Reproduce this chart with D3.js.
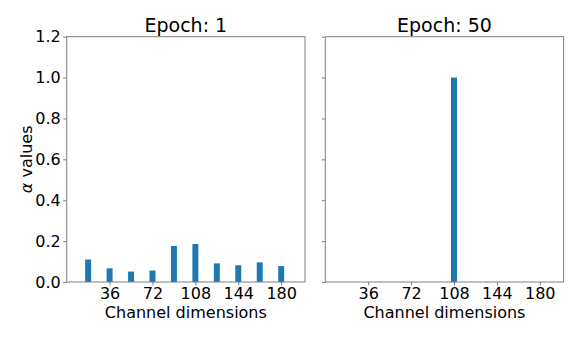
<!DOCTYPE html>
<html>
<head>
<meta charset="utf-8">
<script src="https://cdn.jsdelivr.net/npm/d3@7"></script>
<style>
  body { margin: 0; background: #fff; }
  text { font-family: "DejaVu Sans", sans-serif; fill: #000; }
</style>
</head>
<body>
<svg id="chart" width="581" height="339"></svg>
<script>
// channel positions and alpha values
const channels = [18, 36, 54, 72, 90, 108, 126, 144, 162, 180];
const alphaEpoch1 = [0.110, 0.067, 0.051, 0.056, 0.176, 0.186, 0.091, 0.082, 0.096, 0.078];
const alphaEpoch50 = [0, 0, 0, 0, 0, 1.0, 0, 0, 0, 0];
const panelTitles = ["Epoch: 1", "Epoch: 50"];
const xTicks = [36, 72, 108, 144, 180];
const yTicks = [0.0, 0.2, 0.4, 0.6, 0.8, 1.0, 1.2];

const svg = d3.select("#chart");
const barColor = "#1f77b4";
const spineColor = "#7f7f7f";

const plotTop = 36.7, plotBottom = 282;
const panelLefts = [66.7, 325.3];
const panelWidth = 238.3;
const barWidth = 5;

const y = d3.scaleLinear().domain([0, 1.2]).range([plotBottom, plotTop]);

function drawPanel(idx, values) {
    const left = panelLefts[idx];
    const x = d3.scaleLinear().domain([0, 200]).range([left, left + panelWidth]);
    const g = svg.append("g");

    g.selectAll("rect.bar")
        .data(channels)
        .enter()
        .append("rect")
        .attr("class", "bar")
        .attr("x", (d) => x(d - barWidth / 2))
        .attr("width", (d) => x(d + barWidth / 2) - x(d - barWidth / 2))
        .attr("y", (d, i) => y(values[i]))
        .attr("height", (d, i) => y(0) - y(values[i]))
        .attr("fill", barColor);

    // x axis
    const xAxis = g.append("g")
        .attr("transform", `translate(0,${plotBottom})`)
        .call(d3.axisBottom(x).tickValues(xTicks).tickSize(3.5).tickPadding(2.5));
    xAxis.select(".domain").remove();
    xAxis.selectAll(".tick line").attr("stroke", spineColor);
    xAxis.selectAll("text")
        .style("font-size", "16px")
        .style("font-family", "'DejaVu Sans', sans-serif")
        .attr("fill", "#000");

    // y axis, labels only on the first panel (shared y)
    const yAxis = g.append("g")
        .attr("transform", `translate(${left},0)`)
        .call(d3.axisLeft(y).tickValues(yTicks).tickSize(3.5).tickPadding(2.5)
            .tickFormat(idx === 0 ? d3.format(".1f") : () => ""));
    yAxis.select(".domain").remove();
    yAxis.selectAll(".tick line").attr("stroke", spineColor);
    yAxis.selectAll("text")
        .style("font-size", "16px")
        .style("font-family", "'DejaVu Sans', sans-serif")
        .attr("fill", "#000");

    // frame
    g.append("rect")
        .attr("x", left)
        .attr("y", plotTop)
        .attr("width", panelWidth)
        .attr("height", plotBottom - plotTop)
        .attr("fill", "none")
        .attr("stroke", spineColor)
        .attr("stroke-width", 1);

    g.append("text")
        .attr("x", left + panelWidth / 2)
        .attr("y", 31.7)
        .attr("text-anchor", "middle")
        .style("font-size", "19px")
        .text(panelTitles[idx]);

    g.append("text")
        .attr("x", left + panelWidth / 2)
        .attr("y", 317.5)
        .attr("text-anchor", "middle")
        .style("font-size", "16px")
        .text("Channel dimensions");
}

drawPanel(0, alphaEpoch1);
drawPanel(1, alphaEpoch50);

svg.append("text")
    .attr("transform", `translate(31.5,${(plotTop + plotBottom) / 2}) rotate(-90)`)
    .attr("text-anchor", "middle")
    .style("font-size", "16px")
    .html('<tspan font-style="italic">α</tspan> values');
</script>
</body>
</html>
